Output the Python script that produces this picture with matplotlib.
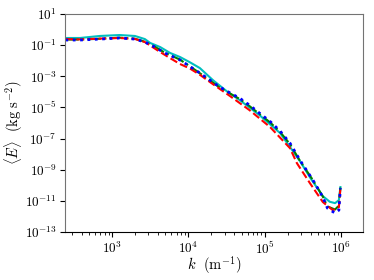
import numpy as np
import matplotlib
matplotlib.use("Agg")
import matplotlib.pyplot as plt
from matplotlib.ticker import FixedLocator, LogFormatterMathtext, NullLocator

plt.rcParams['mathtext.fontset'] = 'cm'
plt.rcParams['font.family'] = 'serif'
plt.rcParams['font.serif'] = ['cmr10', 'DejaVu Serif']
plt.rcParams['axes.formatter.use_mathtext'] = True

# log10(k) / log10(E)
logk_cyan = [2.39, 2.58, 2.84, 3.10, 3.30, 3.43, 3.50, 3.63, 3.76, 3.89, 4.02, 4.15, 4.32,
             4.50, 4.67, 4.93, 5.20, 5.46, 5.60, 5.76, 5.85, 5.92, 5.97, 5.99]
logE_cyan = [-0.54, -0.54, -0.41, -0.35, -0.41, -0.61, -0.86, -1.12, -1.50, -1.76, -2.10, -2.47, -3.24,
             -3.95, -4.52, -5.49, -6.64, -8.44, -9.55, -10.69, -11.05, -11.14, -10.95, -10.11]

logk_blue = [2.39, 2.58, 2.84, 3.10, 3.30, 3.43, 3.56, 3.69, 3.78, 3.89, 4.02, 4.15, 4.28, 4.41,
             4.54, 4.67, 4.80, 4.93, 5.07, 5.20, 5.33, 5.46, 5.63, 5.76, 5.82, 5.92, 5.97, 5.99]
logE_blue = [-0.67, -0.67, -0.61, -0.54, -0.61, -0.80, -1.12, -1.50, -1.70, -1.95, -2.37, -2.79, -3.24, -3.69,
             -4.05, -4.40, -4.85, -5.36, -5.90, -6.51, -7.29, -8.38, -9.66, -10.75, -11.46, -11.78, -11.59, -10.18]

logk_green = [2.39, 2.58, 2.84, 3.10, 3.30, 3.43, 3.56, 3.69, 3.78, 3.89, 4.02, 4.15, 4.28, 4.41,
              4.54, 4.67, 4.80, 4.93, 5.07, 5.20, 5.33, 5.46, 5.63, 5.76, 5.82, 5.92, 5.97, 5.99]
logE_green = [-0.64, -0.64, -0.59, -0.52, -0.59, -0.78, -1.10, -1.48, -1.68, -1.93, -2.36, -2.80, -3.26, -3.72,
              -4.09, -4.45, -4.91, -5.42, -5.96, -6.57, -7.35, -8.42, -9.66, -10.72, -11.35, -11.55, -11.30, -10.14]

logk_red = [2.39, 2.58, 2.84, 3.10, 3.30, 3.43, 3.63, 3.76, 3.89, 4.02, 4.15, 4.32, 4.54, 4.80, 5.07,
            5.33, 5.42, 5.59, 5.76, 5.89, 5.97, 5.99]
logE_red = [-0.61, -0.63, -0.58, -0.54, -0.60, -0.80, -1.44, -1.83, -2.21, -2.50, -2.90, -3.50, -4.25, -5.17, -6.26,
            -7.61, -8.57, -9.85, -11.07, -11.59, -11.40, -10.18]

fig = plt.figure(figsize=(3.74, 2.8), dpi=100)
ax = fig.add_axes([0.174, 0.171, 0.797, 0.779])

ax.plot(10**np.array(logk_cyan), 10**np.array(logE_cyan), '-', color='c', lw=1.5)
ax.plot(10**np.array(logk_green), 10**np.array(logE_green), '-.', color='g', lw=1.5)
ax.plot(10**np.array(logk_red), 10**np.array(logE_red), '--', color='r', lw=1.5)
ax.plot(10**np.array(logk_blue), 10**np.array(logE_blue), ':', color='b', lw=2)

ax.set_xscale('log')
ax.set_yscale('log')
ax.set_xlim(243, 1.94e6)
ax.set_ylim(1e-13, 1e1)
ax.yaxis.set_major_locator(FixedLocator(10.0**np.arange(-13, 2, 2)))
ax.yaxis.set_major_formatter(LogFormatterMathtext())
ax.yaxis.set_minor_locator(NullLocator())
ax.tick_params(labelsize=9.5, pad=2.5)

for s in ['top', 'right', 'left']:
    ax.spines[s].set_color('0.45')
ax.spines['bottom'].set_color('black')

ax.set_xlabel(r'$k\ \ (\mathrm{m}^{-1})$', fontsize=10.5)
ax.set_ylabel(r'$\langle E\rangle\ \ (\mathrm{kg\ s}^{-2})$', fontsize=10.5)
ax.xaxis.set_label_coords(0.5, -0.1)
ax.yaxis.set_label_coords(-0.135, 0.5)

fig.savefig('out.png', dpi=100)
